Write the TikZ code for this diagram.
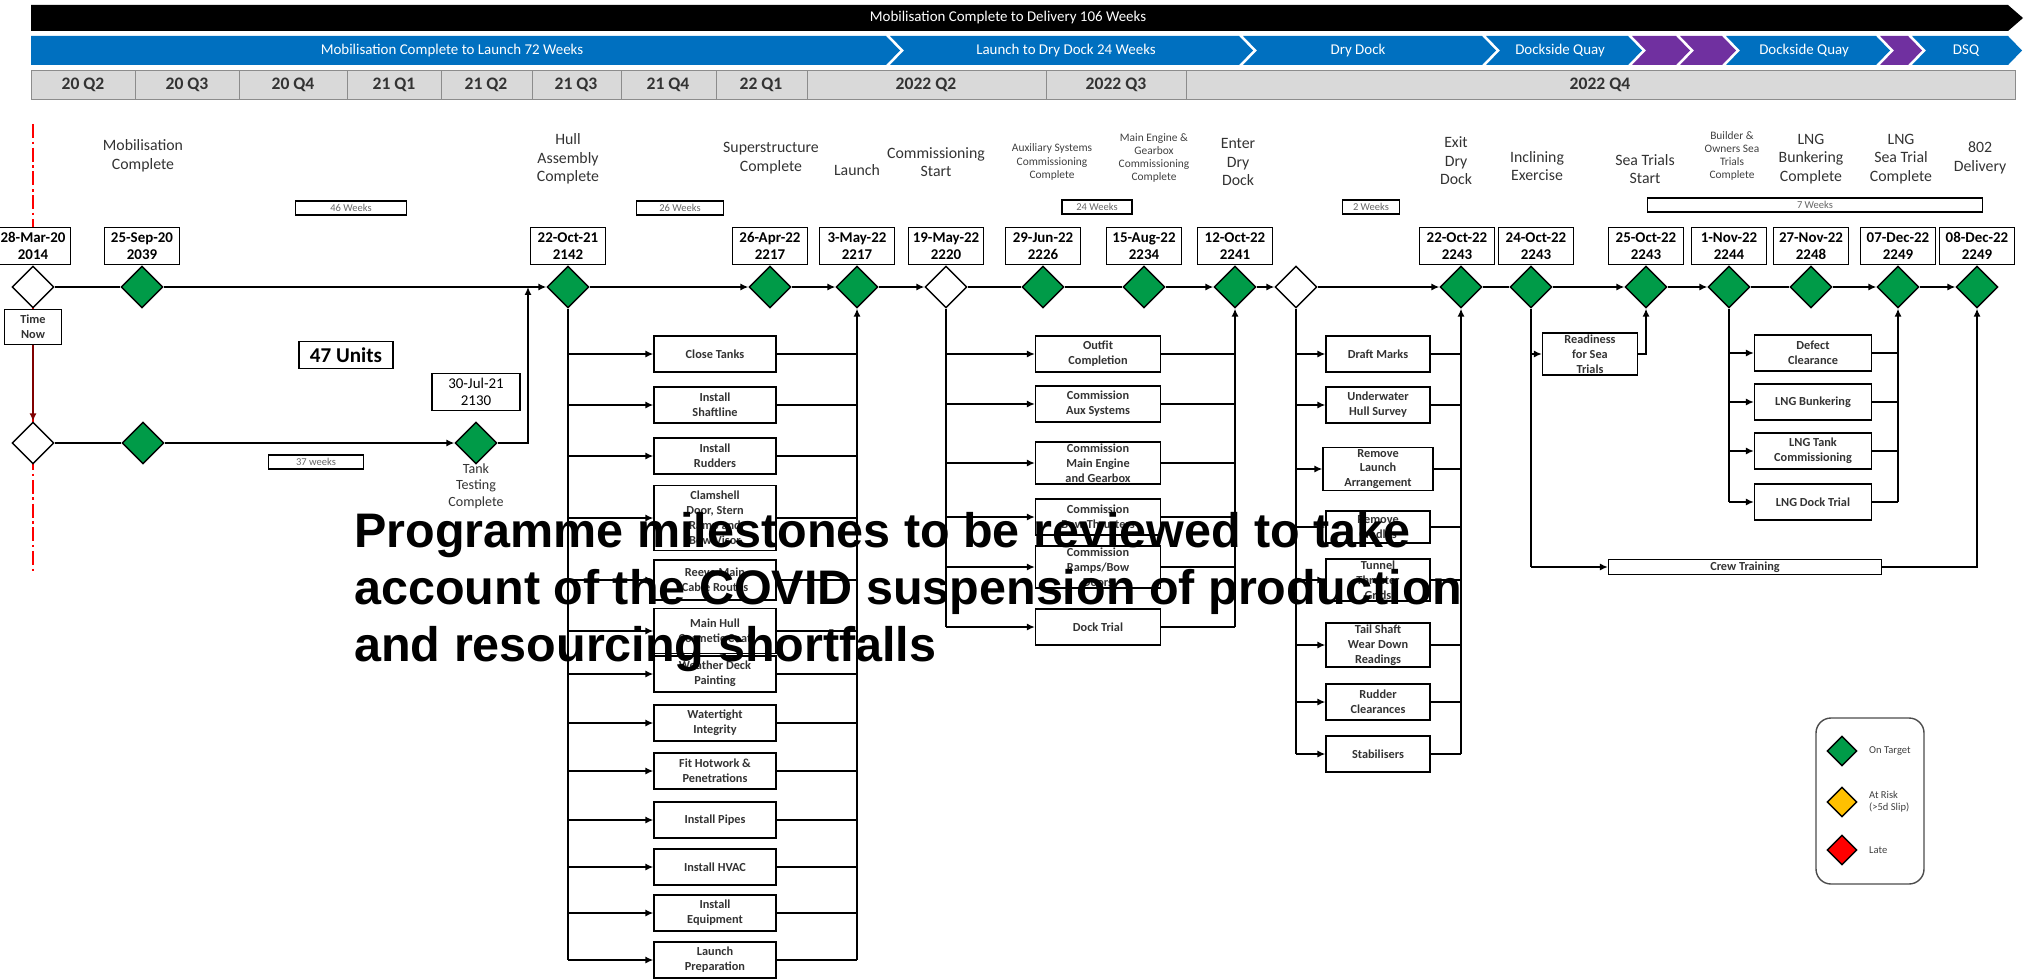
\documentclass[tikz,border=0pt]{standalone}
\usepackage{fontspec}
\setmainfont{Carlito}
\newfontfamily\notefont{Liberation Sans}
\usetikzlibrary{shapes.geometric, positioning, arrows.meta}

\definecolor{msgreen}{RGB}{0,155,72}
\definecolor{barblue}{RGB}{0,112,192}
\definecolor{barpurple}{RGB}{112,48,160}
\definecolor{qgrey}{RGB}{217,217,217}
\definecolor{riskamber}{RGB}{255,192,0}

\tikzset{
  ms/.style={diamond, draw, line width=0.8pt, fill=msgreen, minimum size=0.84cm, inner sep=0pt},
  msopen/.style={ms, fill=white},
  datebox/.style={draw, line width=0.8pt, fill=white, align=center, inner sep=1pt,
    minimum width=1.5cm, minimum height=0.74cm, font=\fontsize{8.5}{9.5}\selectfont\bfseries},
  task/.style={draw, line width=0.8pt, fill=white, align=center, inner sep=1pt,
    minimum height=0.72cm, text=black!80, font=\fontsize{7}{8.5}\selectfont\bfseries},
  mstitle/.style={align=center, text=black!80, font=\fontsize{9}{10.5}\selectfont},
  mssmall/.style={align=center, text=black!75, font=\fontsize{6.5}{7.5}\selectfont},
  weeks/.style={draw, line width=0.6pt, inner sep=0pt, minimum height=0.28cm,
    text=black!60, font=\fontsize{6}{7}\selectfont},
  quarter/.style={draw=black!45, fill=qgrey, line width=0.5pt},
  qtext/.style={text=black!80, font=\fontsize{10}{12}\selectfont\bfseries},
  bartext/.style={text=white, font=\fontsize{8.5}{10}\selectfont},
  legtext/.style={anchor=west, align=left, text=black!75, font=\fontsize{6}{7}\selectfont},
  link/.style={line width=0.8pt},
  >={Latex[length=4.5pt,width=4pt]}
}

\begin{document}
\begin{tikzpicture}[x=0.02cm, y=-0.02cm]
  \useasboundingbox (0,0) rectangle (2038,980);

  % Header bars
  \fill[black] (31,5) -- (2008,5) -- (2023,18) -- (2008,31) -- (31,31) -- cycle;
  \node[bartext] (total) at (1008,18) {Mobilisation Complete to Delivery 106 Weeks};

  \fill[barblue] (31,36) -- (886,36) -- (900,50.5) -- (886,65) -- (31,65) -- cycle;
  \fill[barblue] (890,36) -- (1239,36) -- (1253,50.5) -- (1239,65) -- (890,65) -- (904,50.5) -- cycle;
  \fill[barblue] (1243,36) -- (1482,36) -- (1496,50.5) -- (1482,65) -- (1243,65) -- (1257,50.5) -- cycle;
  \fill[barblue] (1486,36) -- (1628,36) -- (1642,50.5) -- (1628,65) -- (1486,65) -- (1500,50.5) -- cycle;
  \fill[barpurple] (1632,36) -- (1676,36) -- (1690,50.5) -- (1676,65) -- (1632,65) -- (1646,50.5) -- cycle;
  \fill[barpurple] (1680,36) -- (1722,36) -- (1736,50.5) -- (1722,65) -- (1680,65) -- (1694,50.5) -- cycle;
  \fill[barblue] (1726,36) -- (1876,36) -- (1890,50.5) -- (1876,65) -- (1726,65) -- (1740,50.5) -- cycle;
  \fill[barpurple] (1880,36) -- (1908,36) -- (1922,50.5) -- (1908,65) -- (1880,65) -- (1894,50.5) -- cycle;
  \fill[barblue] (1912,36) -- (2008,36) -- (2022,50.5) -- (2008,65) -- (1912,65) -- (1926,50.5) -- cycle;
  \node[bartext] (ph1) at (452,50.5) {Mobilisation Complete to Launch 72 Weeks};
  \node[bartext] (ph2) at (1066,50.5) {Launch to Dry Dock 24 Weeks};
  \node[bartext] (ph3) at (1358,50.5) {Dry Dock};
  \node[bartext] (ph4) at (1560,50.5) {Dockside Quay};
  \node[bartext] (ph5) at (1804,50.5) {Dockside Quay};
  \node[bartext] (ph6) at (1966,50.5) {DSQ};

  % Quarters
  \draw[quarter] (31,70) rectangle (135,99);   \node[qtext] (q1) at (83,84.5) {20 Q2};
  \draw[quarter] (135,70) rectangle (239,99);  \node[qtext] (q2) at (187,84.5) {20 Q3};
  \draw[quarter] (239,70) rectangle (347,99);  \node[qtext] (q3) at (293,84.5) {20 Q4};
  \draw[quarter] (347,70) rectangle (441,99);  \node[qtext] (q4) at (394,84.5) {21 Q1};
  \draw[quarter] (441,70) rectangle (532,99);  \node[qtext] (q5) at (486,84.5) {21 Q2};
  \draw[quarter] (532,70) rectangle (621,99);  \node[qtext] (q6) at (576,84.5) {21 Q3};
  \draw[quarter] (621,70) rectangle (716,99);  \node[qtext] (q7) at (668,84.5) {21 Q4};
  \draw[quarter] (716,70) rectangle (807,99);  \node[qtext] (q8) at (761,84.5) {22 Q1};
  \draw[quarter] (807,70) rectangle (1046,99); \node[qtext] (q9) at (926,84.5) {2022 Q2};
  \draw[quarter] (1046,70) rectangle (1186,99); \node[qtext] (q10) at (1116,84.5) {2022 Q3};
  \draw[quarter] (1186,70) rectangle (2015,99); \node[qtext] (q11) at (1600,84.5) {2022 Q4};

  % Time now line
  \draw[red, line width=0.8pt, dash pattern=on 8pt off 2pt on 1.5pt off 2pt] (33,124) -- (33,572);

  % Milestones on the main line
  \node[msopen] (tnow) at (33,287) {};
  \node[ms] (mob) at (142,287) {};
  \node[ms] (hull) at (568,287) {};
  \node[ms] (super) at (770,287) {};
  \node[ms] (launch) at (857,287) {};
  \node[msopen] (cstart) at (946,287) {};
  \node[ms] (aux) at (1043,287) {};
  \node[ms] (meng) at (1144,287) {};
  \node[ms] (enterdd) at (1235,287) {};
  \node[msopen] (drydock) at (1296,287) {};
  \node[ms] (exitdd) at (1461,287) {};
  \node[ms] (incl) at (1531,287) {};
  \node[ms] (seastart) at (1646,287) {};
  \node[ms] (owners) at (1729,287) {};
  \node[ms] (lngbunk) at (1811,287) {};
  \node[ms] (lngsea) at (1898,287) {};
  \node[ms] (delivery) at (1977,287) {};

  % Dates
  \node[datebox, above=0pt of tnow] (dtnow) {28-Mar-20\\2014};
  \node[datebox, above=0pt of mob] (dmob) {25-Sep-20\\2039};
  \node[datebox, above=0pt of hull] (dhull) {22-Oct-21\\2142};
  \node[datebox, above=0pt of super] (dsuper) {26-Apr-22\\2217};
  \node[datebox, above=0pt of launch] (dlaunch) {3-May-22\\2217};
  \node[datebox, above=0pt of cstart] (dcstart) {19-May-22\\2220};
  \node[datebox, above=0pt of aux] (daux) {29-Jun-22\\2226};
  \node[datebox, above=0pt of meng] (dmeng) {15-Aug-22\\2234};
  \node[datebox, above=0pt of enterdd] (denterdd) {12-Oct-22\\2241};
  \node[datebox, above=0pt of exitdd, xshift=-0.08cm] (dexitdd) {22-Oct-22\\2243};
  \node[datebox, above=0pt of incl, xshift=0.1cm] (dincl) {24-Oct-22\\2243};
  \node[datebox, above=0pt of seastart] (dseastart) {25-Oct-22\\2243};
  \node[datebox, above=0pt of owners] (downers) {1-Nov-22\\2244};
  \node[datebox, above=0pt of lngbunk] (dlngbunk) {27-Nov-22\\2248};
  \node[datebox, above=0pt of lngsea] (dlngsea) {07-Dec-22\\2249};
  \node[datebox, above=0pt of delivery] (ddelivery) {08-Dec-22\\2249};

  % Milestone titles
  \node[mstitle] (tmob) at (143,156) {Mobilisation\\Complete};
  \node[mstitle] (thull) at (568,159) {Hull\\Assembly\\Complete};
  \node[mstitle] (tsuper) at (771,158) {Superstructure\\Complete};
  \node[mstitle] (tlaunch) at (857,170) {Launch};
  \node[mstitle] (tcstart) at (936,162) {Commissioning\\Start};
  \node[mssmall] (taux) at (1052,162) {Auxiliary Systems\\Commissioning\\Complete};
  \node[mssmall] (tmeng) at (1154,158) {Main Engine \&\\Gearbox\\Commissioning\\Complete};
  \node[mstitle] (tenterdd) at (1238,162) {Enter\\Dry\\Dock};
  \node[mstitle] (texitdd) at (1456,161) {Exit\\Dry\\Dock};
  \node[mstitle] (tincl) at (1537,166) {Inclining\\Exercise};
  \node[mstitle] (tseastart) at (1645,169) {Sea Trials\\Start};
  \node[mssmall] (towners) at (1732,156) {Builder \&\\Owners Sea\\Trials\\Complete};
  \node[mstitle] (tlngbunk) at (1811,159) {LNG\\Bunkering\\Complete};
  \node[mstitle] (tlngsea) at (1901,159) {LNG\\Sea Trial\\Complete};
  \node[mstitle] (tdelivery) at (1980,158) {802\\Delivery};

  % Durations
  \node[weeks, minimum width=2.22cm] (w46) at (351,208) {46 Weeks};
  \node[weeks, minimum width=1.74cm] (w26) at (680,208) {26 Weeks};
  \node[weeks, minimum width=1.4cm] (w24) at (1097,207) {24 Weeks};
  \node[weeks, minimum width=1.14cm] (w2) at (1371,207) {2 Weeks};
  \node[weeks, minimum width=6.7cm] (w7) at (1815,205) {7 Weeks};
  \node[weeks, minimum width=1.9cm] (w37) at (316,462) {37 weeks};

  % Main line
  \draw[link] (tnow) -- (mob);
  \draw[link,->] (mob) -- (hull);
  \draw[link,->] (hull) -- (super);
  \draw[link,->] (super) -- (launch);
  \draw[link,->] (launch) -- (cstart);
  \draw[link] (cstart) -- (aux);
  \draw[link] (aux) -- (meng);
  \draw[link,->] (meng) -- (enterdd);
  \draw[link,->] (enterdd) -- (drydock);
  \draw[link,->] (drydock) -- (exitdd);
  \draw[link] (exitdd) -- (incl);
  \draw[link,->] (incl) -- (seastart);
  \draw[link,->] (seastart) -- (owners);
  \draw[link] (owners) -- (lngbunk);
  \draw[link,->] (lngbunk) -- (lngsea);
  \draw[link,->] (lngsea) -- (delivery);

  % Time now and the lower line
  \node[task, below=0pt of tnow, minimum width=1.14cm, minimum height=0.7cm] (tnowbox) {Time\\Now};
  \node[draw, line width=0.8pt, minimum width=1.88cm, minimum height=0.52cm,
    font=\fontsize{12}{14}\selectfont\bfseries] (units) at (346,355) {47 Units};
  \node[msopen] (tnow2) at (33,443) {};
  \node[ms] (mob2) at (143,443) {};
  \node[ms] (tank) at (476,443) {};
  \node[datebox, minimum width=1.76cm, font=\fontsize{8.5}{9.5}\selectfont] (dtank) at (476,392) {30-Jul-21\\2130};
  \node[mstitle, font=\fontsize{8}{9.5}\selectfont] (ttank) at (476,486) {Tank\\Testing\\Complete};
  \coordinate (tj) at (528,287);
  \draw[link,->,draw=red!50!black] (tnowbox) -- (tnow2);
  \draw[link] (tnow2) -- (mob2);
  \draw[link,->] (mob2) -- (tank);
  \draw[link,->] (tank) -| (tj);

  % Hull assembly to launch
  \node[task, minimum width=2.44cm] (ct) at (715,354) {Close Tanks};
  \node[task, minimum width=2.44cm] (ish) at (715,405) {Install\\Shaftline};
  \node[task, minimum width=2.44cm] (iru) at (715,456) {Install\\Rudders};
  \node[task, minimum width=2.44cm, minimum height=1.3cm] (cds) at (715,518) {Clamshell\\Door, Stern\\Ramp and\\Bow Visor};
  \node[task, minimum width=2.44cm, minimum height=0.8cm] (rmc) at (715,580) {Reeve Main\\Cable Routes};
  \node[task, minimum width=2.44cm, minimum height=0.9cm] (mhc) at (715,631) {Main Hull\\Cosmetic Coat};
  \node[task, minimum width=2.44cm] (wdp) at (715,674) {Weather Deck\\Painting};
  \node[task, minimum width=2.44cm] (wti) at (715,723) {Watertight\\Integrity};
  \node[task, minimum width=2.44cm] (fhp) at (715,771) {Fit Hotwork \&\\Penetrations};
  \node[task, minimum width=2.44cm] (ipi) at (715,820) {Install Pipes};
  \node[task, minimum width=2.44cm] (ihv) at (715,867) {Install HVAC};
  \node[task, minimum width=2.44cm] (ieq) at (715,913) {Install\\Equipment};
  \node[task, minimum width=2.44cm] (lpr) at (715,960) {Launch\\Preparation};
  \draw[link] (hull) -- (hull |- lpr);
  \draw[link,->] (launch |- lpr) -- (launch);
  \draw[link,->] (hull |- ct) -- (ct);   \draw[link] (ct) -- (launch |- ct);
  \draw[link,->] (hull |- ish) -- (ish); \draw[link] (ish) -- (launch |- ish);
  \draw[link,->] (hull |- iru) -- (iru); \draw[link] (iru) -- (launch |- iru);
  \draw[link,->] (hull |- cds) -- (cds); \draw[link] (cds) -- (launch |- cds);
  \draw[link,->] (hull |- rmc) -- (rmc); \draw[link] (rmc) -- (launch |- rmc);
  \draw[link,->] (hull |- mhc) -- (mhc); \draw[link] (mhc) -- (launch |- mhc);
  \draw[link,->] (hull |- wdp) -- (wdp); \draw[link] (wdp) -- (launch |- wdp);
  \draw[link,->] (hull |- wti) -- (wti); \draw[link] (wti) -- (launch |- wti);
  \draw[link,->] (hull |- fhp) -- (fhp); \draw[link] (fhp) -- (launch |- fhp);
  \draw[link,->] (hull |- ipi) -- (ipi); \draw[link] (ipi) -- (launch |- ipi);
  \draw[link,->] (hull |- ihv) -- (ihv); \draw[link] (ihv) -- (launch |- ihv);
  \draw[link,->] (hull |- ieq) -- (ieq); \draw[link] (ieq) -- (launch |- ieq);
  \draw[link,->] (hull |- lpr) -- (lpr); \draw[link] (lpr) -- (launch |- lpr);

  % Commissioning to enter dry dock
  \node[task, minimum width=2.5cm] (ofc) at (1098,354) {Outfit\\Completion};
  \node[task, minimum width=2.5cm] (cax) at (1098,404) {Commission\\Aux Systems};
  \node[task, minimum width=2.5cm] (cme) at (1098,463) {Commission\\Main Engine\\and Gearbox};
  \node[task, minimum width=2.5cm] (cbt) at (1098,517) {Commission\\Bow Thrusters};
  \node[task, minimum width=2.5cm] (crb) at (1098,567) {Commission\\Ramps/Bow\\Doors};
  \node[task, minimum width=2.5cm] (dtr) at (1098,627) {Dock Trial};
  \draw[link] (cstart) -- (cstart |- dtr);
  \draw[link,->] (enterdd |- dtr) -- (enterdd);
  \draw[link,->] (cstart |- ofc) -- (ofc); \draw[link] (ofc) -- (enterdd |- ofc);
  \draw[link,->] (cstart |- cax) -- (cax); \draw[link] (cax) -- (enterdd |- cax);
  \draw[link,->] (cstart |- cme) -- (cme); \draw[link] (cme) -- (enterdd |- cme);
  \draw[link,->] (cstart |- cbt) -- (cbt); \draw[link] (cbt) -- (enterdd |- cbt);
  \draw[link,->] (cstart |- crb) -- (crb); \draw[link] (crb) -- (enterdd |- crb);
  \draw[link,->] (cstart |- dtr) -- (dtr); \draw[link] (dtr) -- (enterdd |- dtr);

  % Dry dock work
  \node[task, minimum width=2.08cm] (dfm) at (1378,354) {Draft Marks};
  \node[task, minimum width=2.08cm] (uhs) at (1378,405) {Underwater\\Hull Survey};
  \node[task, minimum width=2.2cm] (rla) at (1378,469) {Remove\\Launch\\Arrangement};
  \node[task, minimum width=2.08cm, minimum height=0.64cm] (rcr) at (1378,527) {Remove\\Cradles};
  \node[task, minimum width=2.08cm] (ttg) at (1378,580) {Tunnel\\Thruster\\Grids};
  \node[task, minimum width=2.08cm] (tsw) at (1378,645) {Tail Shaft\\Wear Down\\Readings};
  \node[task, minimum width=2.08cm] (rcl) at (1378,702) {Rudder\\Clearances};
  \node[task, minimum width=2.08cm] (stb) at (1378,754) {Stabilisers};
  \draw[link] (drydock) -- (drydock |- stb);
  \draw[link,->] (exitdd |- stb) -- (exitdd);
  \draw[link,->] (drydock |- dfm) -- (dfm); \draw[link] (dfm) -- (exitdd |- dfm);
  \draw[link,->] (drydock |- uhs) -- (uhs); \draw[link] (uhs) -- (exitdd |- uhs);
  \draw[link,->] (drydock |- rla) -- (rla); \draw[link] (rla) -- (exitdd |- rla);
  \draw[link,->] (drydock |- rcr) -- (rcr); \draw[link] (rcr) -- (exitdd |- rcr);
  \draw[link,->] (drydock |- ttg) -- (ttg); \draw[link] (ttg) -- (exitdd |- ttg);
  \draw[link,->] (drydock |- tsw) -- (tsw); \draw[link] (tsw) -- (exitdd |- tsw);
  \draw[link,->] (drydock |- rcl) -- (rcl); \draw[link] (rcl) -- (exitdd |- rcl);
  \draw[link,->] (drydock |- stb) -- (stb); \draw[link] (stb) -- (exitdd |- stb);

  % Sea trials and crew
  \node[task, minimum width=1.9cm] (rst) at (1590,354) {Readiness\\for Sea\\Trials};
  \node[task, minimum width=5.46cm, minimum height=0.3cm, inner sep=0pt] (crew) at (1745,567) {Crew Training};
  \draw[link] (incl) -- (incl |- crew);
  \draw[link,->] (incl |- rst) -- (rst);
  \draw[link,->] (rst) -| (seastart);
  \draw[link,->] (incl |- crew) -- (crew);
  \draw[link,->] (crew) -| (delivery);

  % LNG work
  \node[task, minimum width=2.34cm] (dcl) at (1813,353) {Defect\\Clearance};
  \node[task, minimum width=2.34cm] (lbk) at (1813,402) {LNG Bunkering};
  \node[task, minimum width=2.34cm] (ltc) at (1813,451) {LNG Tank\\Commissioning};
  \node[task, minimum width=2.34cm] (ldt) at (1813,502) {LNG Dock Trial};
  \draw[link] (owners) -- (owners |- ldt);
  \draw[link,->] (lngsea |- ldt) -- (lngsea);
  \draw[link,->] (owners |- dcl) -- (dcl); \draw[link] (dcl) -- (lngsea |- dcl);
  \draw[link,->] (owners |- lbk) -- (lbk); \draw[link] (lbk) -- (lngsea |- lbk);
  \draw[link,->] (owners |- ltc) -- (ltc); \draw[link] (ltc) -- (lngsea |- ltc);
  \draw[link,->] (owners |- ldt) -- (ldt); \draw[link] (ldt) -- (lngsea |- ldt);

  % Legend
  \draw[line width=0.8pt, draw=black!70, rounded corners=0.3cm] (1816,718) rectangle (1924,884);
  \node[ms, minimum size=0.6cm] (lgon) at (1842,751) {};
  \node[ms, fill=riskamber, minimum size=0.6cm] (lgrisk) at (1842,802) {};
  \node[ms, fill=red, minimum size=0.6cm] (lglate) at (1842,850) {};
  \node[legtext, right=3pt of lgon] (lgontext) {On Target};
  \node[legtext, right=3pt of lgrisk] (lgrisktext) {At Risk\\(>5d Slip)};
  \node[legtext, right=3pt of lglate] (lglatetext) {Late};

  % Overlay note
  \node[anchor=west, align=left, inner sep=0pt,
    font=\notefont\bfseries\fontsize{27.6}{32.5}\selectfont] (note) at (354,592)
    {Programme milestones to be reviewed to take\\account of the COVID suspension of production\\and resourcing shortfalls};
\end{tikzpicture}
\end{document}
